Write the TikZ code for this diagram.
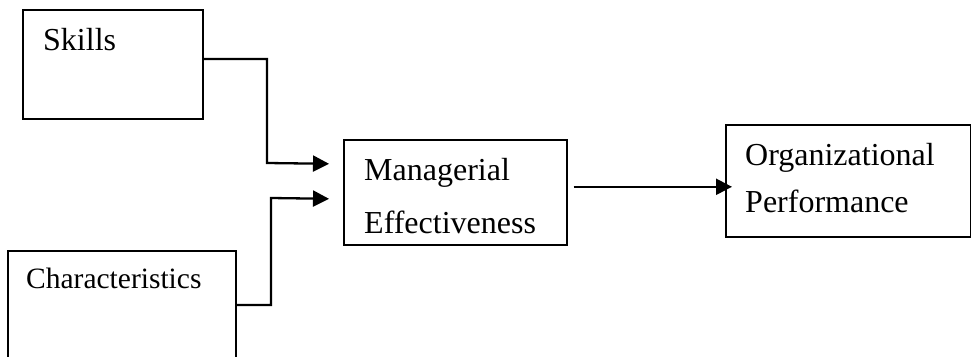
\documentclass[tikz,border=0pt]{standalone}
\usepackage{fontspec}
\setmainfont{Liberation Serif}
\usetikzlibrary{positioning,calc,arrows.meta}

\begin{document}
\begin{tikzpicture}[
    x=1pt, y=-1pt,
    box/.style={rectangle, draw, line width=1.6pt, anchor=north west, inner sep=0pt},
    txt/.style={anchor=base west, inner sep=0pt, font=\fontsize{32}{38}\selectfont},
    arrow/.style={line width=2.3pt, -{Triangle[length=16pt,width=16pt]}}
]
\clip (0,0) rectangle (971,356);

% Boxes
\node[box, minimum width=180pt, minimum height=109pt] (skills) at (22,9) {};
\node[box, minimum width=228pt, minimum height=130pt] (chars) at (7,250) {};
\node[box, minimum width=223pt, minimum height=105pt] (mgr) at (343,139) {};
\node[box, minimum width=245pt, minimum height=112pt] (org) at (725,124) {};

% Texts
\node[txt] (skills_text) at ($(skills.north west)+(21,41)$) {Skills};
\node[txt, font=\fontsize{29.5}{35}\selectfont] (chars_text) at ($(chars.north west)+(19,38)$) {Characteristics};
\node[txt] (mgr_text1) at ($(mgr.north west)+(21,41)$) {Managerial};
\node[txt] (mgr_text2) at ($(mgr.north west)+(21,94)$) {Effectiveness};
\node[txt] (org_text1) at ($(org.north west)+(20,41)$) {Organizational};
\node[txt] (org_text2) at ($(org.north west)+(20,88)$) {Performance};

% Ports
\coordinate (mgr_in1) at ($(mgr.west)+(-14,-28.5)$);
\coordinate (mgr_in2) at ($(mgr.west)+(-14,6.5)$);
\coordinate (mgr_out) at ($(mgr.east)+(6,-5.5)$);
\coordinate (org_in) at ($(org.west)+(7,6)$);

% Arrows
\draw[arrow] (skills.east |- 0,59) -| (267,163) -- (mgr_in1);
\draw[arrow] (chars.east |- 0,305) -| (271,198) -- (mgr_in2);
\draw[arrow] (mgr_out) -- (org_in);

\end{tikzpicture}
\end{document}
